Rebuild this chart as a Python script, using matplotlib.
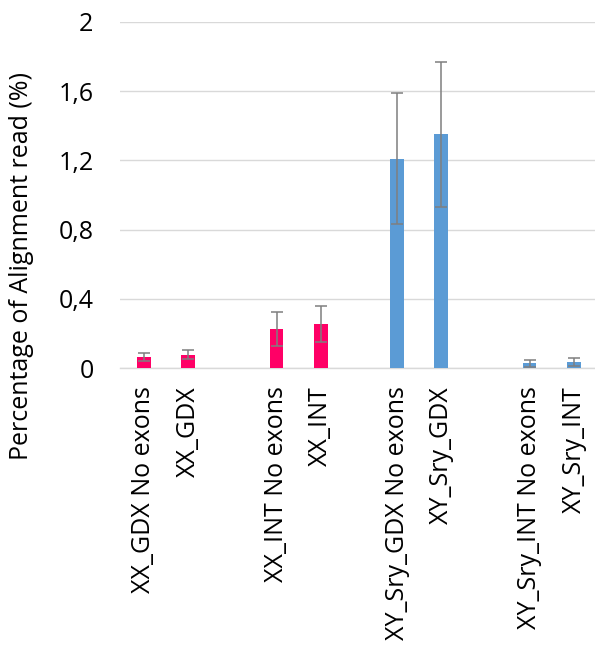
import matplotlib.pyplot as plt
import numpy as np

# alignment read percentages per sample group
samples = ["XX_GDX No exons", "XX_GDX", "XX_INT No exons", "XX_INT",
           "XY_Sry_GDX No exons", "XY_Sry_GDX", "XY_Sry_INT No exons", "XY_Sry_INT"]
means = [0.064, 0.077, 0.226, 0.256, 1.21, 1.35, 0.028, 0.035]
errors = [0.025, 0.027, 0.096, 0.104, 0.38, 0.42, 0.02, 0.021]
groups = ["XX", "XX", "XX", "XX", "XY", "XY", "XY", "XY"]

yticks = [0, 0.4, 0.8, 1.2, 1.6, 2]
ytick_labels = ["0", "0,4", "0,8", "1,2", "1,6", "2"]

colors = {"XX": "#FF0066", "XY": "#5B9BD5"}
# pairs sit together with a wider gap between the pairs
xpos = np.array([0, 1, 3, 4, 5.73, 6.72, 8.72, 9.73])

plt.rcParams["font.family"] = ["Open Sans", "DejaVu Sans"]

fig = plt.figure(figsize=(5.95, 6.46), dpi=100)
ax = fig.add_axes([0.2017, 0.4303, 0.7983, 0.5357])

ax.bar(xpos, means, width=0.31, color=[colors[g] for g in groups],
       yerr=errors, error_kw=dict(ecolor="#7f7f7f", elinewidth=1.1, capsize=4, capthick=1.1),
       zorder=3)

ax.set_ylim(0, 2)
ax.set_xlim(-0.54, 10.2)
ax.set_yticks(yticks)
ax.set_yticklabels(ytick_labels, fontsize=18)
ax.set_xticks(xpos)
ax.set_xticklabels(samples, rotation=90, fontsize=18, va="top", ha="center")
ax.tick_params(axis="y", length=0, pad=19)
ax.tick_params(axis="x", length=0, pad=13)

ax.grid(axis="y", color="#d9d9d9", linewidth=1, zorder=0)
for side in ["left", "right", "top"]:
    ax.spines[side].set_visible(False)
ax.spines["bottom"].set_color("#d9d9d9")
ax.spines["bottom"].set_linewidth(1)

fig.text(0.036, 0.588, "Percentage of Alignment read (%)", rotation=90,
         fontsize=18, ha="center", va="center")

fig.savefig("out.png", dpi=100)
